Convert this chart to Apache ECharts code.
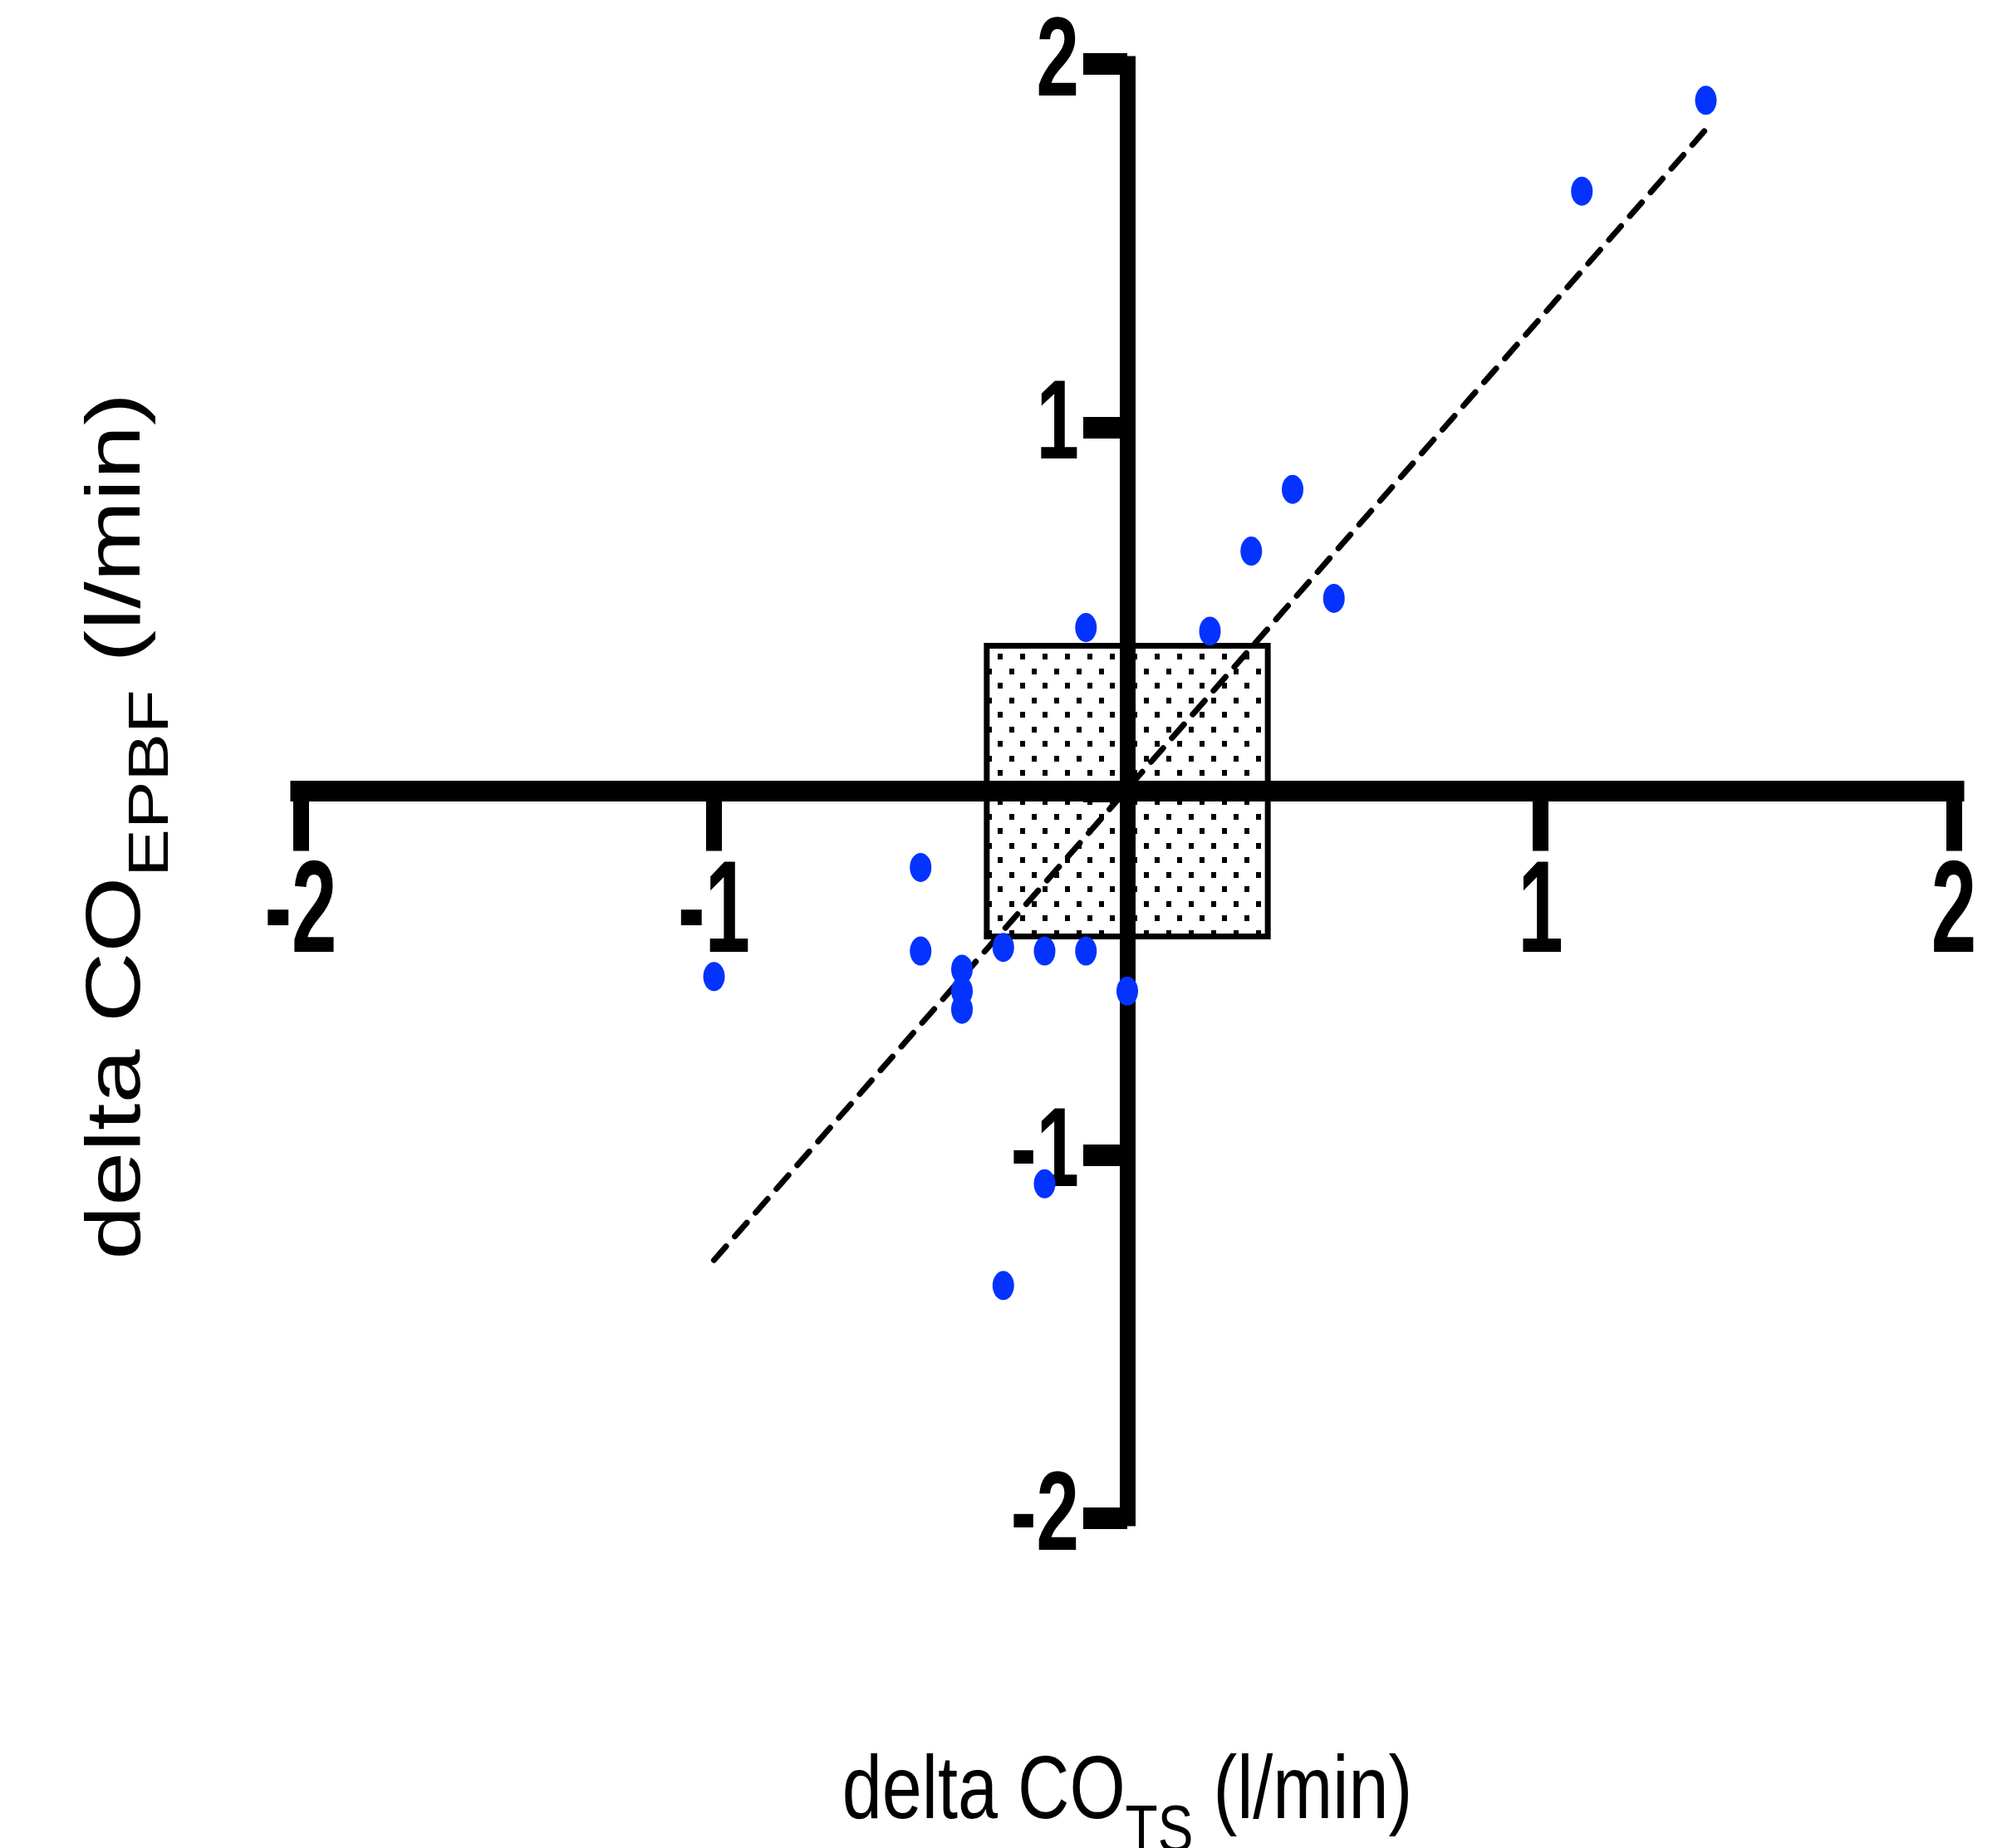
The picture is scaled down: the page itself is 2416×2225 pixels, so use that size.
<!DOCTYPE html>
<html>
<head>
<meta charset="utf-8">
<script src="https://cdn.jsdelivr.net/npm/echarts@6/dist/echarts.min.js"></script>
<style>
  html, body { margin: 0; background: #fff; }
  #main { width: 2416px; height: 2225px; }
</style>
</head>
<body>
<div id="main"></div>
<script>
// measured points (delta CO_TS, delta CO_EPBF)
var xVals = [1.4, 1.1, 0.4, 0.3, 0.5, 0.2, -0.1, -0.5, -0.5, -0.4, -0.4, -0.4, -0.3, -0.2, -0.1, 0.0, -1.0, -0.2, -0.3];
var yVals = [1.90, 1.65, 0.83, 0.66, 0.53, 0.44, 0.45, -0.21, -0.44, -0.49, -0.55, -0.60, -0.43, -0.44, -0.44, -0.55, -0.51, -1.08, -1.36];
// regression line ends
var fitX = [-1.0, 1.4];
var fitY = [-1.29, 1.82];
// shaded zone
var boxX = [-0.34, 0.34];
var boxY = [-0.4, 0.4];
// tick labels (0 is not labelled)
var tickVals = [-2, -1, 1, 2];
var axisMin = -2, axisMax = 2;

var points = xVals.map(function (x, i) { return [x, yVals[i]]; });
var fitLine = fitX.map(function (x, i) { return [x, fitY[i]]; });

// dotted fill for the zone
var tile = document.createElement("canvas");
tile.width = 27;
tile.height = 35;
var ctx = tile.getContext("2d");
ctx.fillStyle = "#000";
ctx.fillRect(0, 0, 6, 7);
ctx.fillRect(13, 17, 6, 7);

var labelFont = '"Liberation Sans", Arial, sans-serif';
var titleFont = '"Liberation Sans", Arial, sans-serif';

// condensed bold tick labels, placed through the axes' own scale
function tickLabel(isX) {
  return function (params, api) {
    var v = isX ? api.value(0) : api.value(1);
    var p = api.coord([api.value(0), api.value(1)]);
    return {
      type: "text",
      x: isX ? p[0] : p[0] - 58,
      y: isX ? p[1] + 150 : p[1],
      scaleX: isX ? 0.62 : 0.68,
      style: {
        text: String(v),
        fill: "#000",
        fontFamily: labelFont,
        fontWeight: "bold",
        fontSize: isX ? 158 : 136,
        align: isX ? "center" : "right",
        verticalAlign: "middle",
      },
    };
  };
}

var myChart = echarts.init(document.getElementById("main"));
myChart.setOption({
  backgroundColor: "#fff",
  animation: false,
  grid: { left: 362, right: 64, top: 77, bottom: 397 },
  xAxis: {
    type: "value",
    min: axisMin,
    max: axisMax,
    interval: 1,
    splitLine: { show: false },
    axisLine: { onZero: true, lineStyle: { color: "#000", width: 25, cap: "square" } },
    axisTick: { length: 72, lineStyle: { color: "#000", width: 19 } },
    axisLabel: { show: false },
  },
  yAxis: {
    type: "value",
    min: axisMin,
    max: axisMax,
    interval: 1,
    splitLine: { show: false },
    axisLine: { onZero: true, lineStyle: { color: "#000", width: 19, cap: "square" } },
    axisTick: { length: 53, lineStyle: { color: "#000", width: 26 } },
    axisLabel: { show: false },
  },
  graphic: [
    {
      type: "text",
      x: 1357,
      y: 2180,
      scaleX: 0.8,
      style: {
        text: "{m|delta CO}{s|TS}{m| (l/min)}",
        fill: "#000",
        align: "center",
        verticalAlign: "middle",
        rich: {
          m: { fontFamily: titleFont, fontSize: 108, lineHeight: 150, verticalAlign: "top" },
          s: { fontFamily: titleFont, fontSize: 80, lineHeight: 150, verticalAlign: "top", padding: [62, 0, 0, 0] },
        },
      },
    },
    {
      type: "text",
      x: 162,
      y: 995,
      rotation: Math.PI / 2,
      scaleX: 1.27,
      style: {
        text: "{m|delta CO}{s|EPBF}{m| (l/min)}",
        fill: "#000",
        align: "center",
        verticalAlign: "middle",
        rich: {
          m: { fontFamily: titleFont, fontSize: 92, lineHeight: 130, verticalAlign: "top" },
          s: { fontFamily: titleFont, fontSize: 68, lineHeight: 130, verticalAlign: "top", padding: [52, 0, 0, 0] },
        },
      },
    },
  ],
  series: [
    {
      name: "zone",
      type: "scatter",
      data: [],
      z: 1,
      markArea: {
        silent: true,
        itemStyle: {
          color: { image: tile, repeat: "repeat" },
          borderColor: "#000",
          borderWidth: 7,
        },
        data: [[{ coord: [boxX[0], boxY[1]] }, { coord: [boxX[1], boxY[0]] }]],
      },
    },
    {
      name: "fit",
      type: "line",
      data: fitLine,
      z: 3,
      symbol: "none",
      lineStyle: { color: "#000", width: 7, type: [22, 16], cap: "round" },
    },
    {
      name: "points",
      type: "scatter",
      data: points,
      z: 4,
      symbol: "circle",
      symbolSize: [26, 35],
      itemStyle: { color: "#0433ff", opacity: 1 },
    },
    {
      name: "x tick labels",
      type: "custom",
      silent: true,
      clip: false,
      data: tickVals.map(function (v) { return [v, 0]; }),
      renderItem: tickLabel(true),
    },
    {
      name: "y tick labels",
      type: "custom",
      silent: true,
      clip: false,
      data: tickVals.map(function (v) { return [0, v]; }),
      renderItem: tickLabel(false),
    },
  ],
});
</script>
</body>
</html>
